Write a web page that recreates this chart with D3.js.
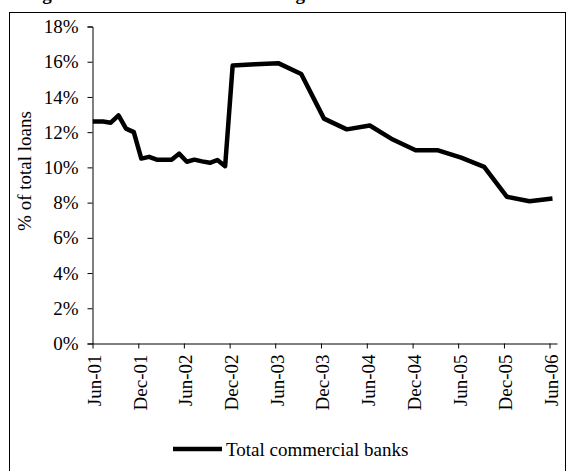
<!DOCTYPE html>
<html>
<head>
<meta charset="utf-8">
<script src="https://cdn.jsdelivr.net/npm/d3@7"></script>
<style>
  html, body { margin: 0; padding: 0; background: #fff; }
  svg { display: block; }
  text { font-family: "Liberation Serif", "Times New Roman", serif; fill: #000; }
</style>
</head>
<body>
<svg id="chart" width="569" height="471"></svg>
<script>
// ---- data ----
const dates = [
  "2001-06-02", "2001-07-13", "2001-08-13", "2001-09-13", "2001-10-13", "2001-11-13",
  "2001-12-13", "2002-01-13", "2002-02-13", "2002-03-13", "2002-04-13", "2002-05-13",
  "2002-06-13", "2002-07-13", "2002-08-13", "2002-09-13", "2002-10-13", "2002-11-13",
  "2002-12-13", "2003-03-13", "2003-06-13", "2003-09-13", "2003-12-13",
  "2004-03-13", "2004-06-13", "2004-09-13", "2004-12-13",
  "2005-03-13", "2005-06-13", "2005-09-13", "2005-12-13",
  "2006-03-13", "2006-06-13"
];
const totalCommercialBanks = [
  12.6, 12.6, 12.54, 12.95, 12.2, 12.0,
  10.5, 10.6, 10.44, 10.44, 10.44, 10.78,
  10.32, 10.44, 10.34, 10.26, 10.42, 10.07,
  15.78, 15.85, 15.92, 15.3, 12.77,
  12.16, 12.38, 11.58, 10.97,
  10.97, 10.55, 10.03, 8.33,
  8.08, 8.23
];
const xTickLabels = ["Jun-01", "Dec-01", "Jun-02", "Dec-02", "Jun-03", "Dec-03",
                     "Jun-04", "Dec-04", "Jun-05", "Dec-05", "Jun-06"];
const yTicks = [0, 2, 4, 6, 8, 10, 12, 14, 16, 18];
const seriesName = "Total commercial banks";
const yAxisTitle = "% of total loans";
const chartTitle = "Figure 4: Share of total loans to agriculture";

// ---- drawing ----
const svg = d3.select("#chart");
const parseDay = d3.timeParse("%Y-%m-%d");
const parseTick = d3.timeParse("%b-%y");
const data = dates.map((d, i) => ({ date: parseDay(d), value: totalCommercialBanks[i] }));

const x = d3.scaleTime()
  .domain([new Date(2001, 5, 1), new Date(2006, 6, 1)])
  .range([92.5, 557]);
const y = d3.scaleLinear().domain([0, 18]).range([343.5, 26.5]);

// outer frame
svg.append("rect")
  .attr("x", 9.5).attr("y", 12.5)
  .attr("width", 556).attr("height", 470)
  .attr("fill", "none").attr("stroke", "#000").attr("stroke-width", 1);

// title (cut off at the top edge, as in the reference)
const title = svg.append("text")
  .attr("y", 0)
  .attr("font-weight", "bold")
  .attr("font-size", 19)
  .text(chartTitle);
const gOff = title.node().getSubStringLength(0, 2) + title.node().getSubStringLength(2, 1) / 2;
title.attr("x", 47 - gOff);

// y axis
const yAxis = d3.axisLeft(y)
  .tickValues(yTicks)
  .tickFormat(d => d + "%")
  .tickSize(5)
  .tickPadding(9);
const gy = svg.append("g").attr("transform", "translate(92.5,0)").call(yAxis);
gy.select(".domain").attr("stroke", "#000");
gy.selectAll(".tick line").attr("stroke", "#000");
gy.selectAll(".tick text")
  .attr("font-family", "Liberation Serif, Times New Roman, serif")
  .attr("font-size", 19)
  .attr("fill", "#000");

// x axis
const xAxis = d3.axisBottom(x)
  .tickValues(xTickLabels.map(parseTick))
  .tickFormat(d3.timeFormat("%b-%y"))
  .tickSize(5)
  .tickSizeOuter(0);
const gx = svg.append("g").attr("transform", "translate(0,343.5)").call(xAxis);
gx.select(".domain").attr("stroke", "#000");
gx.selectAll(".tick line").attr("stroke", "#000");
gx.selectAll(".tick text")
  .attr("font-family", "Liberation Serif, Times New Roman, serif")
  .attr("font-size", 19)
  .attr("fill", "#000")
  .attr("text-anchor", "end")
  .attr("transform", "rotate(-90)")
  .attr("x", -11)
  .attr("y", 0)
  .attr("dy", "0.42em");

// y axis title
svg.append("text")
  .attr("transform", "translate(31,171) rotate(-90)")
  .attr("text-anchor", "middle")
  .attr("font-size", 19)
  .text(yAxisTitle);

// line
const line = d3.line()
  .x(d => x(d.date))
  .y(d => y(d.value));
svg.append("path")
  .datum(data)
  .attr("d", line)
  .attr("fill", "none")
  .attr("stroke", "#000")
  .attr("stroke-width", 4.5)
  .attr("stroke-linejoin", "round");

// legend
svg.append("line")
  .attr("x1", 173).attr("x2", 222)
  .attr("y1", 449).attr("y2", 449)
  .attr("stroke", "#000").attr("stroke-width", 4.5);
svg.append("text")
  .attr("x", 226).attr("y", 455.5)
  .attr("font-size", 19)
  .text(seriesName);
</script>
</body>
</html>
